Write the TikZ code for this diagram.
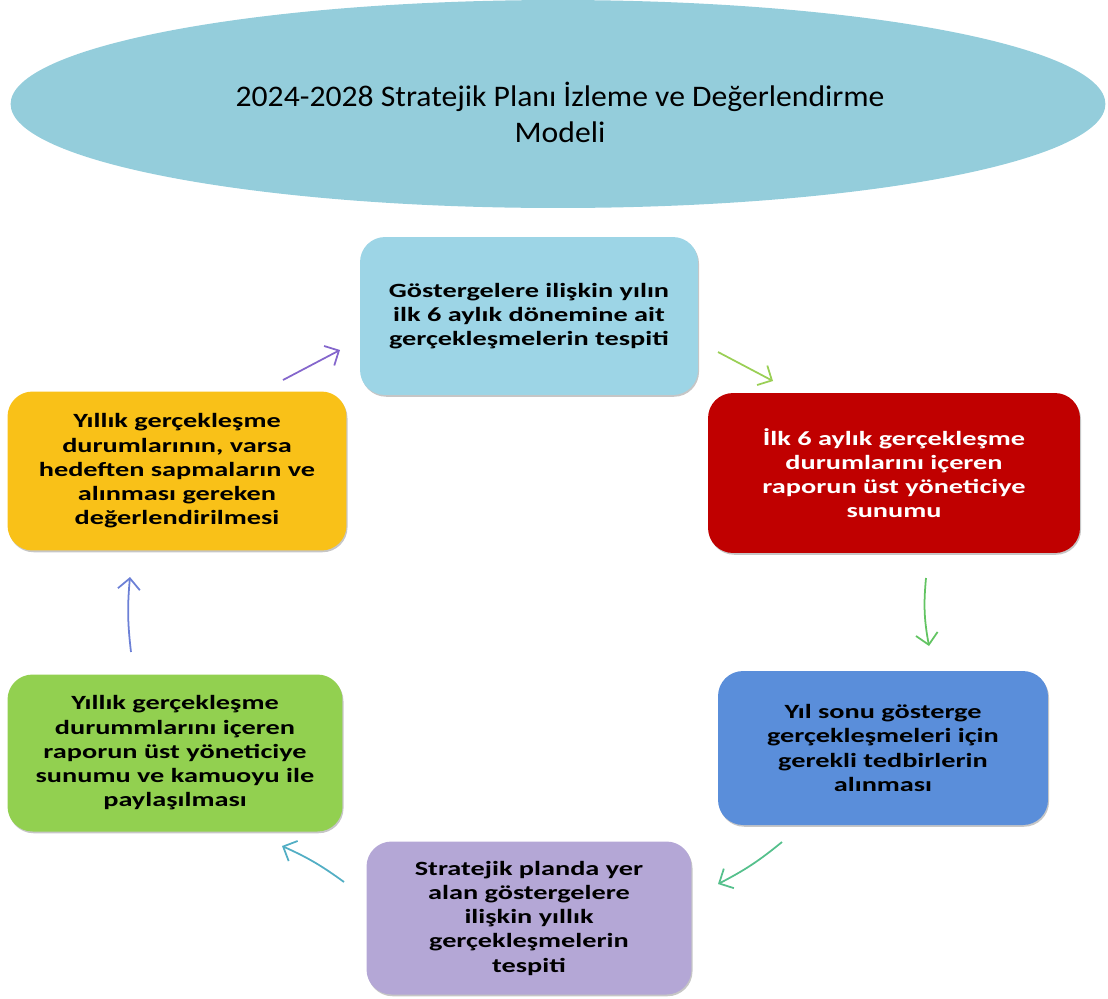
\documentclass[tikz,border=0pt]{standalone}
\usepackage{fontspec}
\setmainfont{Carlito}
\newfontfamily\boxfont{Carlito}[FakeStretch=1.4]
\newfontfamily\titlefont{Carlito}[FakeStretch=1.06]
\usetikzlibrary{arrows.meta,shadows,shapes.geometric}
\definecolor{ellc}{HTML}{94CDDB}
\definecolor{c1}{HTML}{9DD5E6}
\definecolor{c2}{HTML}{C00000}
\definecolor{c3}{HTML}{5A8EDA}
\definecolor{c4}{HTML}{B4A7D6}
\definecolor{c5}{HTML}{92D050}
\definecolor{c6}{HTML}{F9C118}
\definecolor{a1}{HTML}{8466CC}
\definecolor{a2}{HTML}{9ACF55}
\definecolor{a3}{HTML}{62C462}
\definecolor{a4}{HTML}{55C08C}
\definecolor{a5}{HTML}{52AEC4}
\definecolor{a6}{HTML}{6C80D6}
\tikzset{
  stagebox/.style={rectangle, rounded corners=0.5cm, align=center,
    font=\boxfont\fontsize{11.5}{13.8}\selectfont\bfseries,
    drop shadow={opacity=0.45, shadow xshift=0.6pt, shadow yshift=-1pt}},
  cyc/.style={line width=1pt, -{Straight Barb[length=2.2mm,width=4.4mm,line width=1pt]}},
}
\begin{document}
\begin{tikzpicture}[x=0.02cm,y=-0.02cm]
\useasboundingbox (0,0) rectangle (1108,998);
\node[ellipse, fill=ellc, minimum width=21.9cm, minimum height=4.16cm, inner sep=0pt] (title) at (558,104) {};
\node[align=center, font=\titlefont\fontsize{17}{20.5}\selectfont, inner sep=0pt] (titletext) at (560,112)
  {2024-2028 Stratejik Planı İzleme ve Değerlendirme\\Modeli};
\node[stagebox, fill=c1, minimum width=6.76cm, minimum height=3.16cm] (s1) at (529,316)
  {Göstergelere ilişkin yılın\\ilk 6 aylık dönemine ait\\gerçekleşmelerin tespiti};
\node[stagebox, fill=c2, text=white, minimum width=7.44cm, minimum height=3.2cm] (s2) at (894,473)
  {İlk 6 aylık gerçekleşme\\durumlarını içeren\\raporun üst yöneticiye\\sunumu};
\node[stagebox, fill=c3, minimum width=6.6cm, minimum height=3.08cm] (s3) at (883,748)
  {Yıl sonu gösterge\\gerçekleşmeleri için\\gerekli tedbirlerin\\alınması};
\node[stagebox, fill=c4, minimum width=6.5cm, minimum height=3.06cm] (s4) at (529,918)
  {Stratejik planda yer\\alan göstergelere\\ilişkin yıllık\\gerçekleşmelerin\\tespiti};
\node[stagebox, fill=c5, minimum width=6.7cm, minimum height=3.14cm] (s5) at (175,753)
  {Yıllık gerçekleşme\\durummlarını içeren\\raporun üst yöneticiye\\sunumu ve kamuoyu ile\\paylaşılması};
\node[stagebox, fill=c6, minimum width=6.78cm, minimum height=3.18cm] (s6) at (177,471)
  {Yıllık gerçekleşme\\durumlarının, varsa\\hedeften sapmaların ve\\alınması gereken\\değerlendirilmesi};
\coordinate (p1a) at (283,380); \coordinate (p1b) at (340,350);
\coordinate (p2a) at (718,352); \coordinate (p2b) at (773,381);
\coordinate (p3a) at (926,578); \coordinate (p3b) at (929,646);
\coordinate (p4a) at (782,842); \coordinate (p4b) at (718,884);
\coordinate (p5a) at (344,882); \coordinate (p5b) at (282,846);
\coordinate (p6a) at (131,652); \coordinate (p6b) at (130,577);
\draw[cyc, draw=a1] (p1a) -- (p1b);
\draw[cyc, draw=a2] (p2a) -- (p2b);
\draw[cyc, draw=a3] (p3a) to[bend right=8] (p3b);
\draw[cyc, draw=a4] (p4a) to[bend left=6] (p4b);
\draw[cyc, draw=a5] (p5a) to[bend right=6] (p5b);
\draw[cyc, draw=a6] (p6a) to[bend left=6] (p6b);
\end{tikzpicture}
\end{document}
